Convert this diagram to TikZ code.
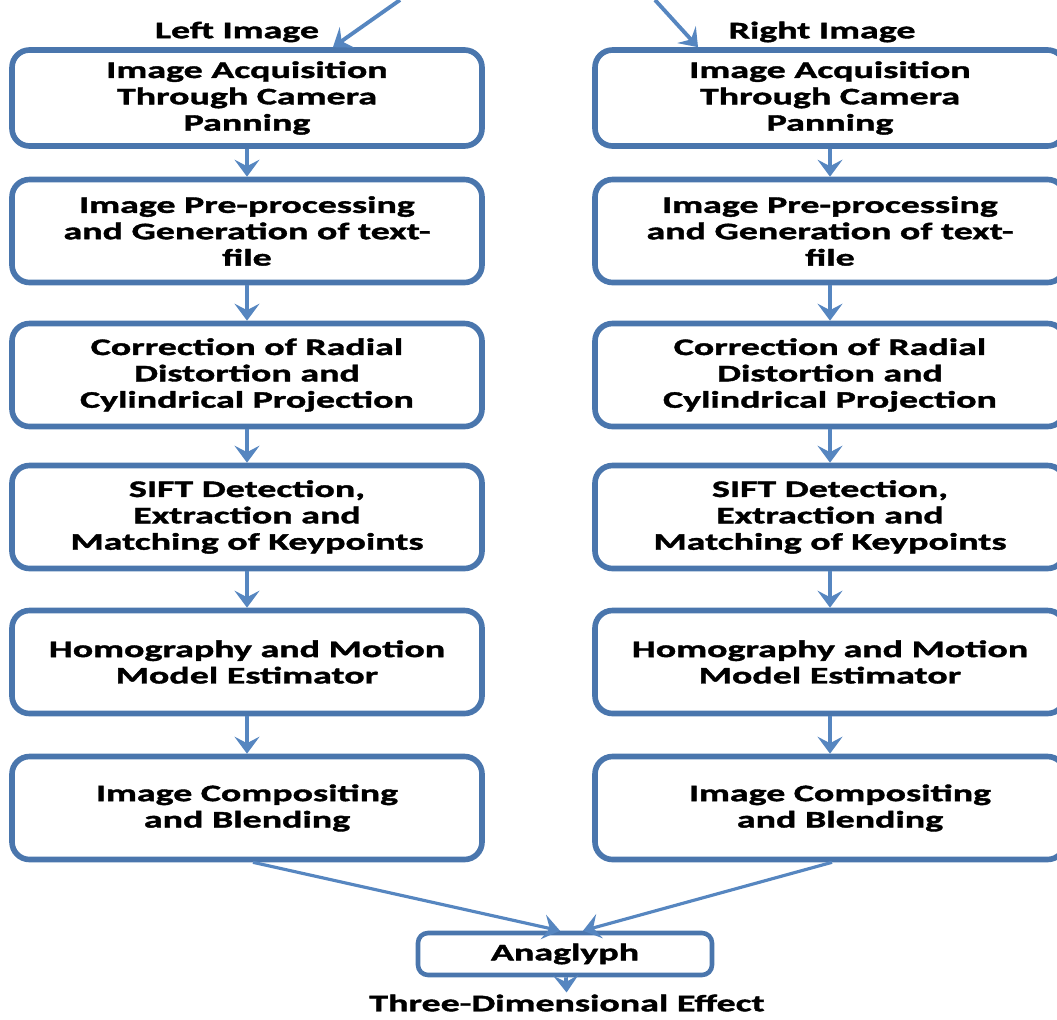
\documentclass[tikz,border=0pt]{standalone}
\usepackage{fontspec}
\setmainfont{Carlito}[FakeStretch=1.6, BoldFeatures={FakeBold=1.6}]
\usetikzlibrary{arrows.meta}
\definecolor{boxblue}{HTML}{4A76AD}
\definecolor{arrowblue}{HTML}{5686C0}

\begin{document}
\begin{tikzpicture}[
    stage/.style={draw=boxblue, line width=3.2pt, rounded corners=0.35cm, minimum width=9.4cm, minimum height=2.06cm, align=center, font=\fontsize{13.5}{15}\selectfont\bfseries},
    flow/.style={draw=arrowblue, line width=2.2pt, -{Stealth[width=0.5cm, length=0.34cm, inset=0.13cm]}},
    tag/.style={font=\fontsize{13.5}{15}\selectfont\bfseries, inner sep=1pt}
]
    \useasboundingbox (0,0) rectangle (21.14,-20.38);

    % left column
    \node (l1) at (4.94,-1.96) [stage, minimum height=1.92cm] {Image Acquisition\\Through Camera\\Panning};
    \node (l2) at (4.94,-4.62) [stage] {Image Pre-processing\\and Generation of text-\\file};
    \node (l3) at (4.94,-7.50) [stage] {Correction of Radial\\Distortion and\\Cylindrical Projection};
    \node (l4) at (4.94,-10.34) [stage] {SIFT Detection,\\Extraction and\\Matching of Keypoints};
    \node (l5) at (4.94,-13.24) [stage] {Homography and Motion\\Model Estimator};
    \node (l6) at (4.94,-16.16) [stage] {Image Compositing\\and Blending};

    % right column
    \node (r1) at (16.6,-1.96) [stage, minimum height=1.92cm] {Image Acquisition\\Through Camera\\Panning};
    \node (r2) at (16.6,-4.62) [stage] {Image Pre-processing\\and Generation of text-\\file};
    \node (r3) at (16.6,-7.50) [stage] {Correction of Radial\\Distortion and\\Cylindrical Projection};
    \node (r4) at (16.6,-10.34) [stage] {SIFT Detection,\\Extraction and\\Matching of Keypoints};
    \node (r5) at (16.6,-13.24) [stage] {Homography and Motion\\Model Estimator};
    \node (r6) at (16.6,-16.16) [stage] {\hspace{0.4cm}Image Compositing\\\hspace{0.4cm}and Blending};

    \node (ana) at (11.3,-19.08) [stage, line width=2.6pt, rounded corners=0.2cm, minimum width=5.88cm, minimum height=0.84cm] {Anaglyph};
    \node (eff) at (11.34,-20.06) [tag] {Three-Dimensional Effect};

    \node (tl) at (4.74,-0.64) [tag] {Left Image};
    \node (tr) at (16.44,-0.64) [tag] {Right Image};

    \coordinate (inl) at (8.0,0);
    \coordinate (inr) at (13.1,0);

    \draw [flow] (inl) -- ([xshift=1.72cm]l1.north);
    \draw [flow] (inr) -- ([xshift=-2.64cm]r1.north);

    \draw [flow] (l1) -- (l2);
    \draw [flow] (l2) -- (l3);
    \draw [flow] (l3) -- (l4);
    \draw [flow] (l4) -- (l5);
    \draw [flow] (l5) -- (l6);

    \draw [flow] (r1) -- (r2);
    \draw [flow] (r2) -- (r3);
    \draw [flow] (r3) -- (r4);
    \draw [flow] (r4) -- (r5);
    \draw [flow] (r5) -- (r6);

    \draw [flow, line width=1.8pt] ([xshift=0.12cm]l6.south) -- ([xshift=-0.1cm]ana.north);
    \draw [flow, line width=1.8pt] ([xshift=0.04cm]r6.south) -- ([xshift=0.36cm]ana.north);
    \draw [flow] (ana) -- (eff);

\end{tikzpicture}
\end{document}
